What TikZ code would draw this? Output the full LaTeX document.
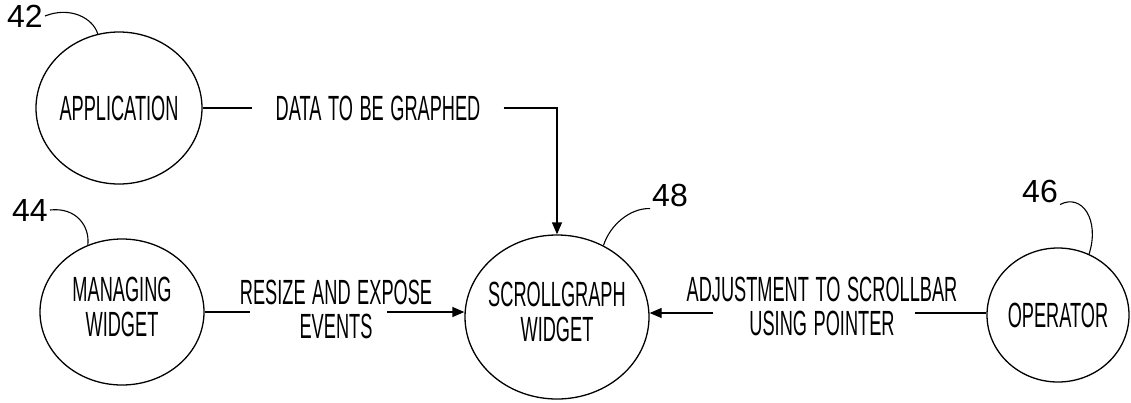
\documentclass[tikz,border=0pt]{standalone}
\usepackage{fontspec}
\usetikzlibrary{shapes.geometric,arrows.meta}
% condensed lettering for the bubble and flow labels, plain digits for reference numerals
\newfontfamily\lettering[FakeStretch=0.52,WordSpace=1.3]{Liberation Sans}
\newfontfamily\numerals{Liberation Sans}
\newcommand{\twolines}[2]{\clap{\begin{tabular}{@{}c@{}}#1\\#2\end{tabular}}}
\tikzset{
  bubble/.style={draw, ellipse, line width=1.3pt, inner sep=0pt,
    font=\lettering\fontsize{35}{34}\selectfont},
  flowtext/.style={inner sep=0pt, align=center,
    font=\lettering\fontsize{35}{34}\selectfont},
  refnum/.style={inner sep=2pt, font=\numerals\fontsize{32}{32}\selectfont},
  flow/.style={line width=1.3pt},
  tip/.style={-{Triangle[length=12pt,width=10pt]}},
  leader/.style={line width=1.1pt}
}
\begin{document}
\begin{tikzpicture}[x=1pt,y=-1pt]
  \fill[white] (0,0) rectangle (1131,402);
  \useasboundingbox (0,0) rectangle (1131,402);

  % processes
  \node[bubble, minimum width=166pt, minimum height=152pt] (app) at (119,108) {\clap{APPLICATION}};
  \node[bubble, minimum width=164pt, minimum height=146pt] (mw) at (122,312) {\twolines{MANAGING}{WIDGET}};
  \node[bubble, minimum width=184pt, minimum height=164pt] (sg) at (557,317) {\twolines{SCROLLGRAPH}{WIDGET}};
  \node[bubble, minimum width=142pt, minimum height=134pt] (op) at (1058,315) {\clap{OPERATOR}};

  % reference numerals
  \node[refnum] (n42) at (25,16) {42};
  \node[refnum] (n44) at (30,210) {44};
  \node[refnum] (n48) at (670,195) {48};
  \node[refnum] (n46) at (1040,191) {46};

  \draw[leader] (n42.east) .. controls (70,6) and (93,18) .. (app.106);
  \draw[leader] (n44.east) .. controls (76,207) and (90,226) .. (mw.117);
  \draw[leader] (n48.south west) .. controls (630,208) and (610,225) .. (sg.57);
  \draw[leader] (n46.south east) .. controls (1082,193) and (1100,220) .. (op.63);

  % data flow: application -> scrollgraph
  \node[flowtext, inner xsep=23pt] (data) at (378,108) {DATA TO BE GRAPHED};
  \draw[flow] (app.east) -- (data.west);
  \draw[flow, tip] (data.east) -| (sg.north);

  % data flow: managing widget -> scrollgraph
  \node[flowtext] (resize) at (336,309) {RESIZE AND EXPOSE\\EVENTS};
  \coordinate (r1) at (250,312);
  \coordinate (r2) at (387,312);
  \draw[flow] (r1 -| mw.east) -- (r1);
  \draw[flow, tip] (r2) -- (r2 -| sg.west);

  % data flow: operator -> scrollgraph
  \node[flowtext] (adjust) at (822,306) {ADJUSTMENT TO SCROLLBAR\\USING POINTER};
  \coordinate (a1) at (915,313);
  \coordinate (a2) at (713,313);
  \draw[flow] (a1 -| op.west) -- (a1);
  \draw[flow, tip] (a2) -- (a2 -| sg.east);
\end{tikzpicture}
\end{document}
